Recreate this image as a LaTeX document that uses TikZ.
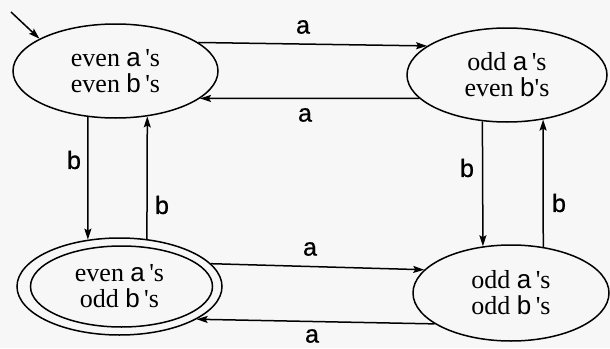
\documentclass[tikz,border=0pt]{standalone}
\usepackage{fontspec}
\setmainfont{Liberation Serif}
\newfontfamily\labelsans{Liberation Sans}
\newfontfamily\edgesans[FakeBold=0.8]{Liberation Sans}
\usetikzlibrary{shapes.geometric,arrows.meta}
% sans-serif letters of the alphabet inside the state texts
\newcommand\ltr[1]{{\labelsans #1}}
\newcommand\apo{\textquotesingle}
\begin{document}
\begin{tikzpicture}[x=1pt,y=-1pt,
  state/.style={ellipse, draw, line width=1.5pt, inner sep=0pt, align=center,
    font=\fontsize{26}{26}\selectfont},
  conn/.style={line width=1.5pt, -{Stealth[length=11pt,width=7pt,inset=2pt]}},
  lab/.style={inner sep=0pt, font=\edgesans\fontsize{25}{25}\selectfont}]
\fill[black!3] (0,0) rectangle (610,348);
\useasboundingbox (0,0) rectangle (610,348);

% states
\node[state, minimum width=205pt, minimum height=94pt] (ee) at (115.5,71)
  {even \ltr{a}\,\apo s\\even \ltr{b}\,\apo s};
\node[state, minimum width=200pt, minimum height=94pt] (oe) at (507,75)
  {odd \ltr{a}\,\apo s\\even \ltr{b}\apo s};
\node[state, minimum width=205pt, minimum height=97pt] (eo) at (119.5,286.5)
  {even \ltr{a}\,\apo s\\odd \ltr{b}\,\apo s};
\node[state, minimum width=196pt, minimum height=96pt] (oo) at (511,293)
  {odd \ltr{a}\,\apo s\\odd \ltr{b}\,\apo s};
% accepting state: inner ring
\draw[line width=1.5pt] (eo.center) ++(2,0) ellipse [x radius=91, y radius=40.5];

% start arrow
\coordinate (start) at (11,12);
\draw[conn] (start) -- (ee.157);

% transitions on a
\draw[conn] (ee.19) -- (oe.160);
\draw[conn] (oe.195) -- (ee.342);
\draw[conn] (eo.14) -- (oo.165);
\draw[conn] (oo.202) -- (eo.337);

% transitions on b
\draw[conn] (ee.239) -- (eo.124);
\draw[conn] (eo.60) -- (ee.305);
\draw[conn] (oe.242) -- (oo.121);
\draw[conn] (oo.55) -- (oe.309);

% transition labels
\node[lab] (la1) at (303,27) {a};
\node[lab] (la2) at (305,115) {a};
\node[lab] (la3) at (310,249) {a};
\node[lab] (la4) at (312,336) {a};
\node[lab] (lb1) at (74,160) {b};
\node[lab] (lb2) at (162,205) {b};
\node[lab] (lb3) at (467,168) {b};
\node[lab] (lb4) at (559,203) {b};
\end{tikzpicture}
\end{document}
